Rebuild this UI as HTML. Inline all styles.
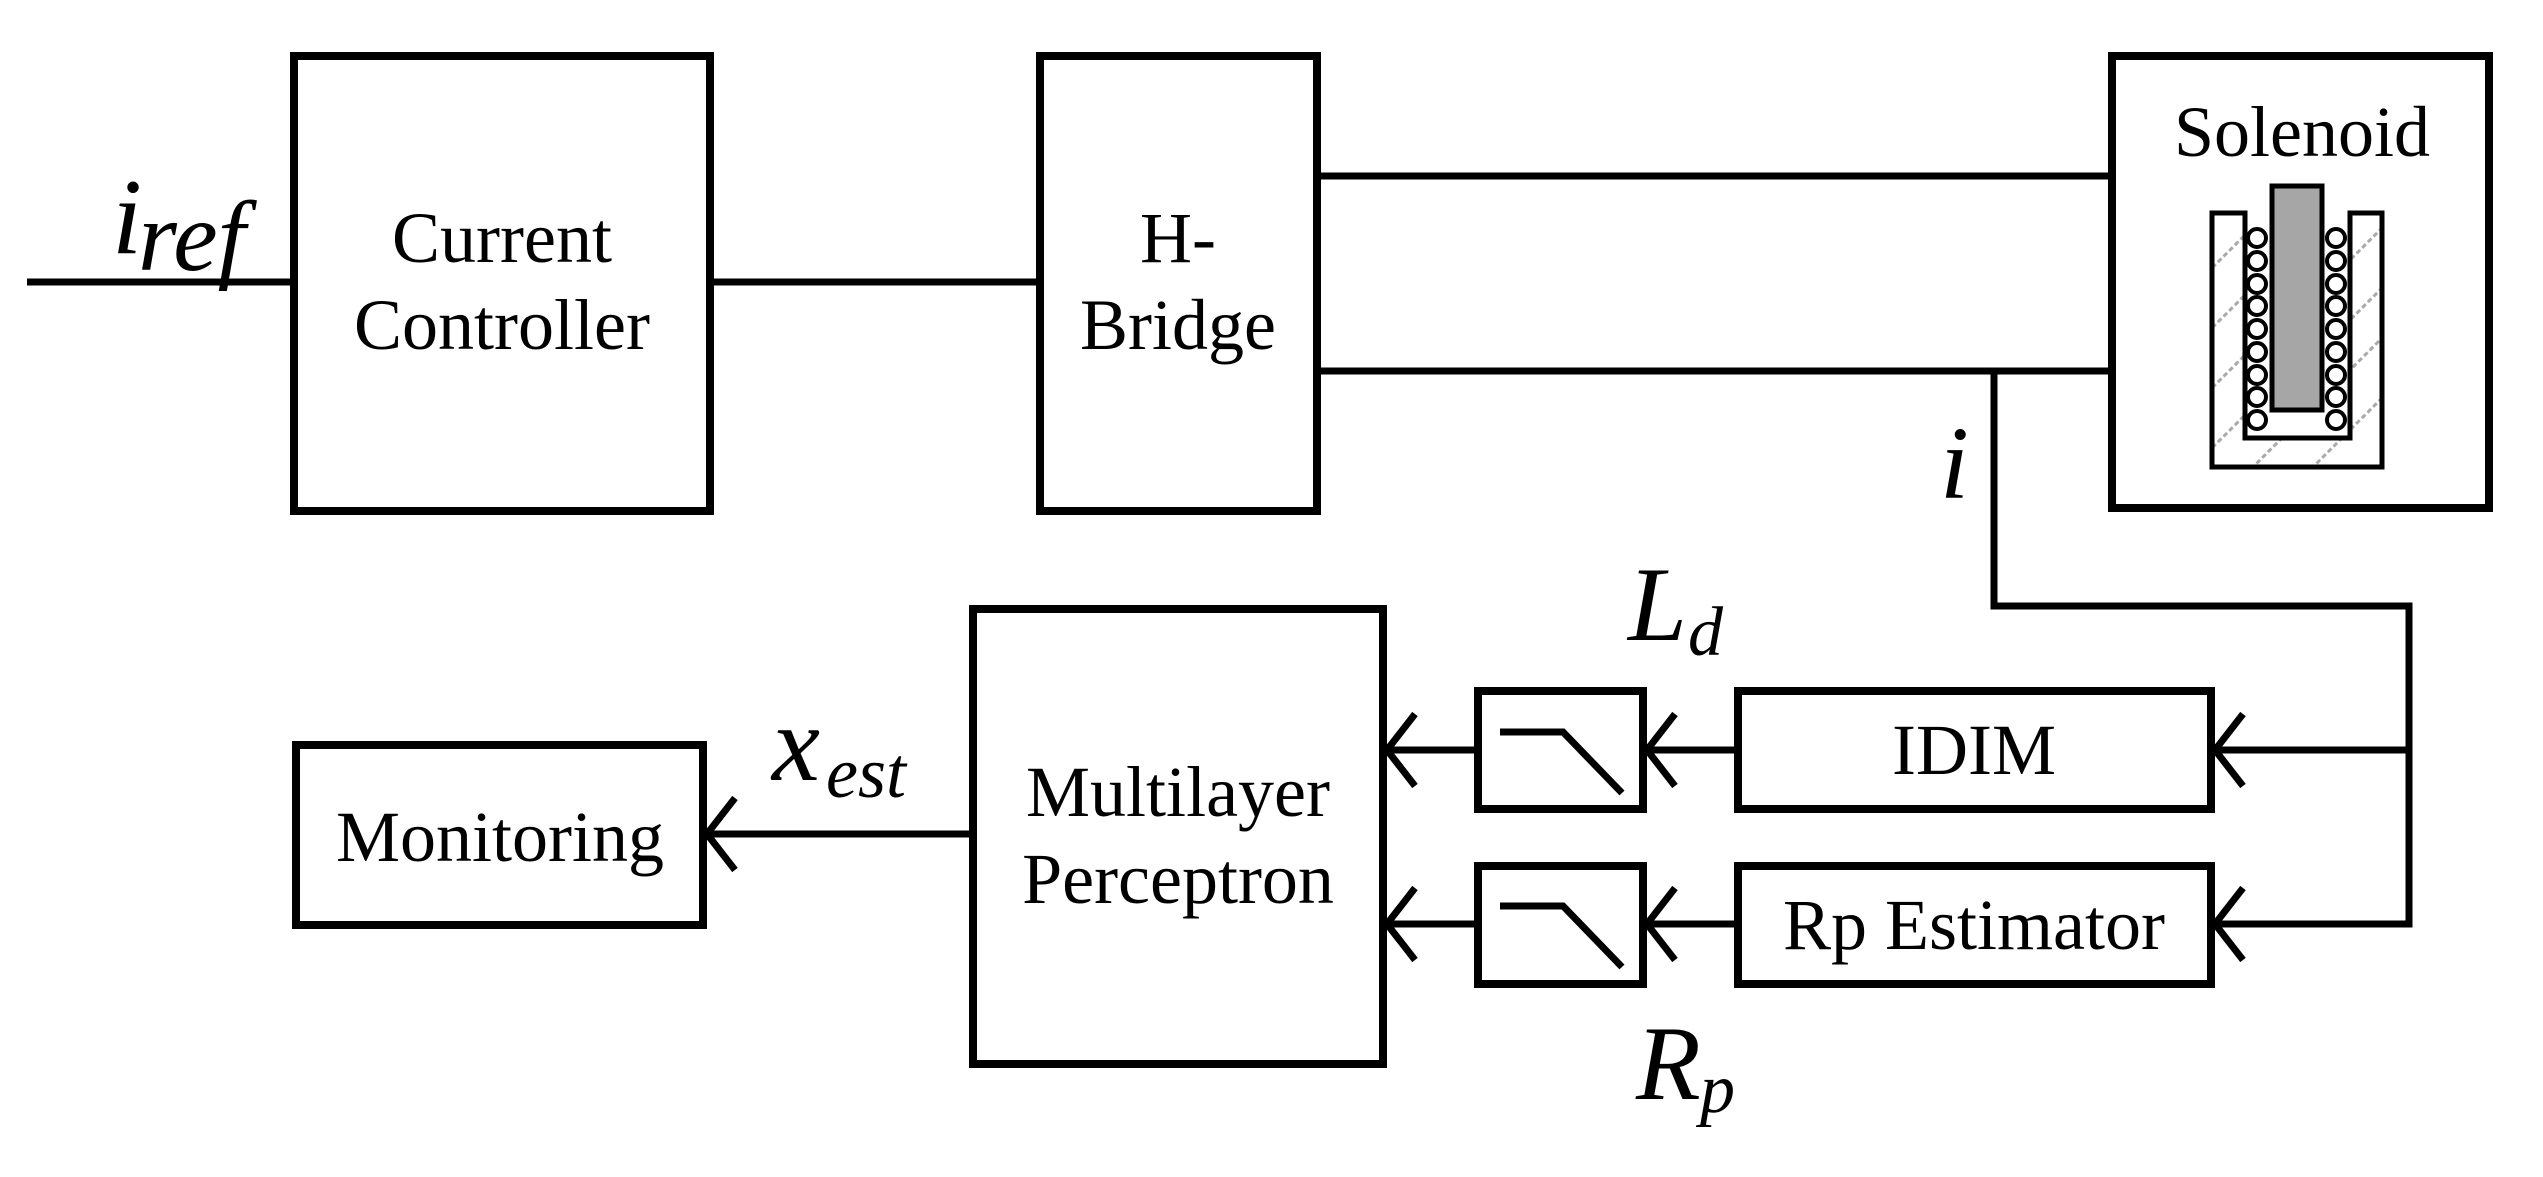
<!DOCTYPE html>
<html><head><meta charset="utf-8"><style>
html,body{margin:0;padding:0;background:#fff}
svg{display:block}
text{font-family:"Liberation Serif",serif;fill:#000}
.l{font-size:72px;text-anchor:middle}
.it{font-style:italic}
</style></head><body>
<svg width="2543" height="1177" viewBox="0 0 2543 1177" xmlns="http://www.w3.org/2000/svg">
<defs>
<clipPath id="hc"><path d="M2212 213 H2245 V438 H2350 V213 H2382 V467 H2212 Z"/></clipPath>
</defs>
<g fill="none" stroke="#000" stroke-width="8">
<rect x="294" y="56" width="416" height="455"/>
<rect x="1040" y="56" width="277" height="455"/>
<rect x="2112" y="56" width="377" height="452"/>
<rect x="973" y="609" width="410" height="455"/>
<rect x="296" y="745" width="407" height="180"/>
<rect x="1478" y="691" width="165" height="118"/>
<rect x="1478" y="866" width="165" height="118"/>
<rect x="1738" y="691" width="473" height="118"/>
<rect x="1738" y="866" width="473" height="118"/>
</g>
<g stroke="#000" stroke-width="7" fill="none">
<line x1="27" y1="282" x2="294" y2="282"/>
<line x1="710" y1="282" x2="1040" y2="282"/>
<line x1="1317" y1="176" x2="2112" y2="176"/>
<line x1="1317" y1="371" x2="2112" y2="371"/>
<polyline points="1994,371 1994,606 2409,606 2409,924 2211,924"/>
<line x1="2409" y1="750" x2="2211" y2="750"/>
<line x1="1643" y1="750" x2="1738" y2="750"/>
<line x1="1643" y1="924" x2="1738" y2="924"/>
<line x1="1383" y1="750" x2="1478" y2="750"/>
<line x1="1383" y1="924" x2="1478" y2="924"/>
<line x1="703" y1="834" x2="973" y2="834"/>
<polyline points="1500,732 1563,732 1622,793"/>
<polyline points="1500,906 1563,906 1622,967"/>
<polyline points="2243,714 2215,750 2243,786"/>
<polyline points="2243,888 2215,924 2243,960"/>
<polyline points="1675,714 1647,750 1675,786"/>
<polyline points="1675,888 1647,924 1675,960"/>
<polyline points="1415,714 1387,750 1415,786"/>
<polyline points="1415,888 1387,924 1415,960"/>
<polyline points="735,798 707,834 735,870"/>
</g>
<g clip-path="url(#hc)" stroke="#aaa" stroke-width="3" stroke-dasharray="5,3">
<line x1="2150" y1="330" x2="2290" y2="190"/>
<line x1="2150" y1="390" x2="2290" y2="250"/>
<line x1="2150" y1="450" x2="2290" y2="310"/>
<line x1="2150" y1="510" x2="2310" y2="350"/>
<line x1="2200" y1="520" x2="2400" y2="320"/>
<line x1="2260" y1="520" x2="2420" y2="360"/>
<line x1="2300" y1="370" x2="2420" y2="250"/>
<line x1="2300" y1="310" x2="2420" y2="190"/>
</g>
<path d="M2212 213 H2245 V438 H2350 V213 H2382 V467 H2212 Z" fill="none" stroke="#000" stroke-width="5"/>
<rect x="2272" y="186" width="50" height="224" fill="#a6a6a6" stroke="#000" stroke-width="5"/>
<g fill="#fff" stroke="#000" stroke-width="4">
<circle cx="2257" cy="238" r="9"/><circle cx="2257" cy="261" r="9"/><circle cx="2257" cy="284" r="9"/><circle cx="2257" cy="306" r="9"/><circle cx="2257" cy="329" r="9"/><circle cx="2257" cy="352" r="9"/><circle cx="2257" cy="375" r="9"/><circle cx="2257" cy="397" r="9"/><circle cx="2257" cy="420" r="9"/>
<circle cx="2336" cy="238" r="9"/><circle cx="2336" cy="261" r="9"/><circle cx="2336" cy="284" r="9"/><circle cx="2336" cy="306" r="9"/><circle cx="2336" cy="329" r="9"/><circle cx="2336" cy="352" r="9"/><circle cx="2336" cy="375" r="9"/><circle cx="2336" cy="397" r="9"/><circle cx="2336" cy="420" r="9"/>
</g>
<text class="l" x="2302" y="156">Solenoid</text>
<text class="l" x="502" y="262">Current</text>
<text class="l" x="502" y="349">Controller</text>
<text class="l" x="1178" y="262">H-</text>
<text class="l" x="1178" y="349">Bridge</text>
<text class="l" x="1178" y="816">Multilayer</text>
<text class="l" x="1178" y="903">Perceptron</text>
<text class="l" x="1974" y="774">IDIM</text>
<text class="l" x="1974" y="949">Rp Estimator</text>
<text class="l" x="500" y="861">Monitoring</text>
<text class="it" x="112" y="253" font-size="108">i</text>
<text class="it" x="138" y="270" font-size="100">ref</text>
<text class="it" x="1940" y="498" font-size="104">i</text>
<text class="it" x="1628" y="640" font-size="106">L</text>
<text class="it" x="1688" y="655" font-size="70">d</text>
<text class="it" x="1636" y="1099" font-size="106">R</text>
<text class="it" x="1700" y="1112" font-size="70">p</text>
<text class="it" x="772" y="780" font-size="108">x</text>
<text class="it" x="826" y="797" font-size="72">est</text>
</svg>
</body></html>
